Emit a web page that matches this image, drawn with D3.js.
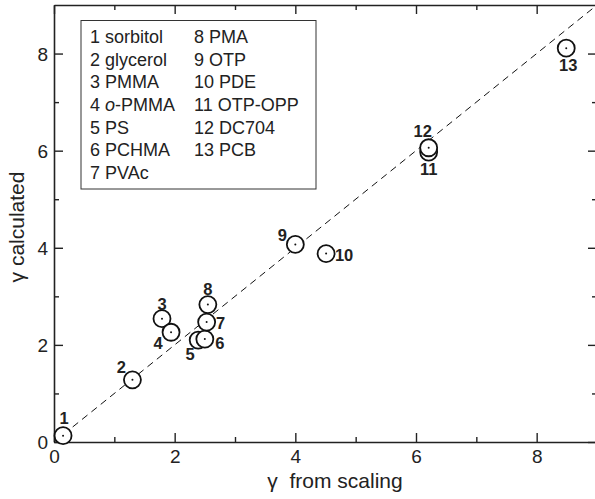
<!DOCTYPE html>
<html>
<head>
<meta charset="utf-8">
<script src="https://cdn.jsdelivr.net/npm/d3@7"></script>
<style>
  body { margin: 0; background: #fff; }
  text { font-family: "Liberation Sans", Arial, sans-serif; fill: #222; }
</style>
</head>
<body>
<div id="chart-area"></div>
<script>
// data
const ids = [1, 2, 3, 4, 5, 6, 7, 8, 9, 10, 11, 12, 13];
const names = ["sorbitol", "glycerol", "PMMA", "o-PMMA", "PS", "PCHMA", "PVAc",
  "PMA", "OTP", "PDE", "OTP-OPP", "DC704", "PCB"];
const gammaScaling = [0.15, 1.30, 1.79, 1.94, 2.39, 2.50, 2.53, 2.55, 4.00, 4.51, 6.21, 6.21, 8.49];
const gammaCalc = [0.13, 1.28, 2.54, 2.26, 2.10, 2.12, 2.47, 2.83, 4.07, 3.88, 5.97, 6.06, 8.11];
const xTicks = [0, 2, 4, 6, 8];
const yTicks = [0, 2, 4, 6, 8];

// label nudges (px) so numbers sit next to their circles
const labelNudge = [[1, -18], [-11, -13], [0, -15], [-13, 11], [-8, 14], [15, 4], [14, 1],
  [0, -16], [-13, -9], [18, 1], [0, 17], [-6, -17], [2, 17]];

const W = 595, H = 499;
const svg = d3.select("#chart-area").append("svg")
  .attr("width", W)
  .attr("height", H);

const x = d3.scaleLinear().domain([0, 9]).range([54, 597]);
const y = d3.scaleLinear().domain([0, 9]).range([442, 5]);

// frame axes, ticks inward
const minor = d3.range(1, 9, 2);
function frame(axisFn, scale, transform, labels) {
  const g = svg.append("g").attr("transform", transform);
  g.call(axisFn(scale).tickValues(xTicks).tickSizeInner(-9).tickSizeOuter(0)
    .tickFormat(labels ? d3.format("d") : ""));
  g.append("g").call(axisFn(scale).tickValues(minor).tickSizeInner(-5).tickSizeOuter(0).tickFormat(""))
    .select(".domain").remove();
  g.selectAll(".domain").attr("stroke", "#222").attr("stroke-width", 1.6);
  g.selectAll(".tick line").attr("stroke", "#222").attr("stroke-width", 1.4);
  g.selectAll(".tick text").attr("font-size", 19).attr("fill", "#222")
    .style("font-family", "'Liberation Sans', Arial, sans-serif");
  return g;
}
const bottom = frame(d3.axisBottom, x, `translate(0,${y(0)})`, true);
bottom.selectAll(".tick text").attr("dy", "1.05em").attr("y", 1);
const left = frame(d3.axisLeft, y, `translate(${x(0)},0)`, true);
left.selectAll(".tick text").attr("x", -6).attr("dy", "0.36em");
frame(d3.axisTop, x, `translate(0,${y(9)})`, false);
frame(d3.axisRight, y, `translate(${x(9)},0)`, false);

// y = x reference line
svg.append("line")
  .attr("x1", x(0)).attr("y1", y(0))
  .attr("x2", x(9)).attr("y2", y(9))
  .attr("stroke", "#111")
  .attr("stroke-width", 1)
  .attr("stroke-dasharray", "7,5");

// legend
svg.append("rect")
  .attr("x", 81).attr("y", 20.5)
  .attr("width", 235).attr("height", 168.5)
  .attr("fill", "#fff")
  .attr("stroke", "#333")
  .attr("stroke-width", 1);

const legend = svg.append("g");
ids.forEach((id, i) => {
  const col = i < 7 ? 0 : 1;
  const row = i < 7 ? i : i - 7;
  const t = legend.append("text")
    .attr("x", col === 0 ? 90 : 194)
    .attr("y", 43 + row * 22.67)
    .attr("font-size", 18);
  if (names[i].startsWith("o-")) {
    t.append("tspan").text(id + " ");
    t.append("tspan").attr("font-style", "italic").text("o");
    t.append("tspan").text(names[i].slice(1));
  } else {
    t.text(id + " " + names[i]);
  }
});

// points
const data = ids.map((id, i) => ({ id, xs: gammaScaling[i], yc: gammaCalc[i], nudge: labelNudge[i] }));

const pts = svg.selectAll(".pt").data(data).enter().append("g")
  .attr("class", "pt")
  .attr("transform", d => `translate(${x(d.xs)},${y(d.yc)})`);
pts.append("circle")
  .attr("r", 8.5)
  .attr("fill", "#fff")
  .attr("stroke", "#111")
  .attr("stroke-width", 1.8);
pts.append("circle")
  .attr("r", 1)
  .attr("fill", "#111");

svg.selectAll(".plabel").data(data).enter().append("text")
  .attr("class", "plabel")
  .attr("x", d => x(d.xs) + d.nudge[0])
  .attr("y", d => y(d.yc) + d.nudge[1])
  .attr("dy", "0.36em")
  .attr("text-anchor", "middle")
  .attr("font-size", 16.5)
  .attr("font-weight", "700")
  .text(d => d.id);

// axis titles
svg.append("text")
  .attr("x", 335)
  .attr("y", 488)
  .attr("text-anchor", "middle")
  .attr("font-size", 21)
  .style("white-space", "pre")
  .text("γ  from scaling");

svg.append("text")
  .attr("transform", "translate(24,227) rotate(-90)")
  .attr("text-anchor", "middle")
  .attr("font-size", 21)
  .text("γ calculated");
</script>
</body>
</html>
